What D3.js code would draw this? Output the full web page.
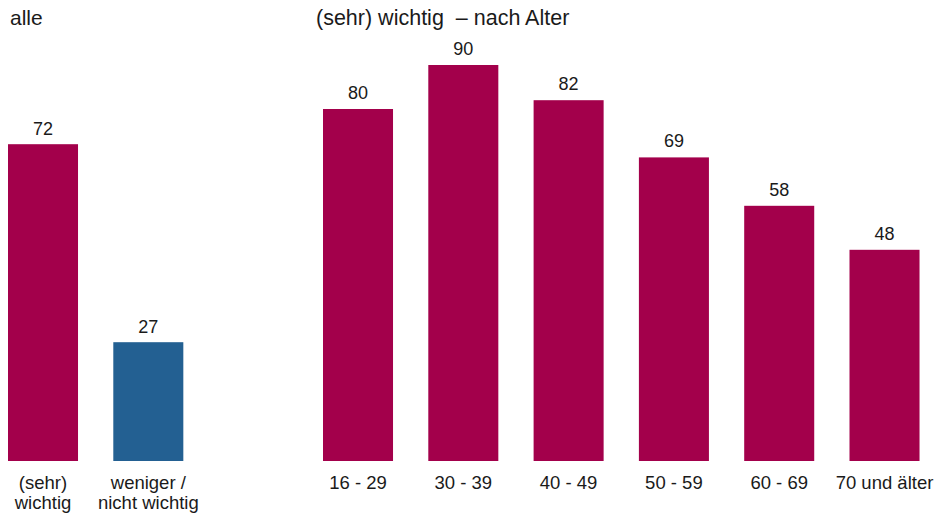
<!DOCTYPE html>
<html>
<head>
    <meta charset="UTF-8">
    <script src="https://cdn.jsdelivr.net/npm/d3@7"></script>
    <style>
        body { margin: 0; background: #fff; }
        text { font-family: "Liberation Sans", Arial, sans-serif; fill: #1a1a1a; }
    </style>
</head>
<body>
<svg id="chart" width="937" height="515"></svg>
<script>

// linke Gruppe: alle
let alle_kat = [["(sehr)", "wichtig"], ["weniger /", "nicht wichtig"]];
let alle_wert = [72, 27];
let alle_farbe = ["#a3004b", "#236092"];

// rechte Gruppe: (sehr) wichtig nach Alter
let alter_kat = ["16 - 29", "30 - 39", "40 - 49", "50 - 59", "60 - 69", "70 und älter"];
let alter_wert = [80, 90, 82, 69, 58, 48];

let titel_links = "alle";
let titel_rechts = "(sehr) wichtig  \u2013 nach Alter";

let svg = d3.select("#chart");

let step = 105.3;
let pad = 0.335;

let y = d3.scaleLinear([0, 100], [461, 21]);

// Bandskala links
let r0 = 8 - step * pad / 2;
let xL = d3.scaleBand(alle_kat.map((d, i) => i), [r0, r0 + 2 * step])
    .paddingInner(pad).paddingOuter(pad / 2);

// Bandskala rechts
let r1 = 323 - step * pad / 2;
let xR = d3.scaleBand(alter_kat, [r1, r1 + 6 * step])
    .paddingInner(pad).paddingOuter(pad / 2);

// Titel
svg.append("text").attr("x", 10).attr("y", 25).style("font-size", "21px").text(titel_links);
svg.append("text").attr("x", 316).attr("y", 25).style("font-size", "21.5px")
    .style("white-space", "pre").text(titel_rechts);

//===================================== links =====================================//
let gL = svg.append("g");
gL.selectAll("rect").data(alle_wert).join("rect")
    .attr("x", (d, i) => xL(i))
    .attr("width", xL.bandwidth())
    .attr("y", d => y(d))
    .attr("height", d => y(0) - y(d))
    .attr("fill", (d, i) => alle_farbe[i]);

gL.selectAll("text.wert").data(alle_wert).join("text")
    .attr("class", "wert")
    .attr("x", (d, i) => xL(i) + xL.bandwidth() / 2)
    .attr("y", d => y(d) - 9)
    .attr("text-anchor", "middle")
    .style("font-size", "18px")
    .text(d => d);

gL.selectAll("text.kat").data(alle_kat).join("text")
    .attr("class", "kat")
    .attr("text-anchor", "middle")
    .style("font-size", "18.5px")
    .attr("transform", (d, i) => `translate(${xL(i) + xL.bandwidth() / 2},489)`)
    .selectAll("tspan").data(d => d).join("tspan")
    .attr("x", 0)
    .attr("y", (d, i) => i * 20)
    .text(d => d);

//===================================== rechts =====================================//
let gR = svg.append("g");
gR.selectAll("rect").data(alter_wert).join("rect")
    .attr("x", (d, i) => xR(alter_kat[i]))
    .attr("width", xR.bandwidth())
    .attr("y", d => y(d))
    .attr("height", d => y(0) - y(d))
    .attr("fill", "#a3004b");

gR.selectAll("text.wert").data(alter_wert).join("text")
    .attr("class", "wert")
    .attr("x", (d, i) => xR(alter_kat[i]) + xR.bandwidth() / 2)
    .attr("y", d => y(d) - 10)
    .attr("text-anchor", "middle")
    .style("font-size", "18px")
    .text(d => d);

gR.selectAll("text.kat").data(alter_kat).join("text")
    .attr("class", "kat")
    .attr("x", d => xR(d) + xR.bandwidth() / 2)
    .attr("y", 489)
    .attr("text-anchor", "middle")
    .style("font-size", "18.5px")
    .text(d => d);

</script>
</body>
</html>
